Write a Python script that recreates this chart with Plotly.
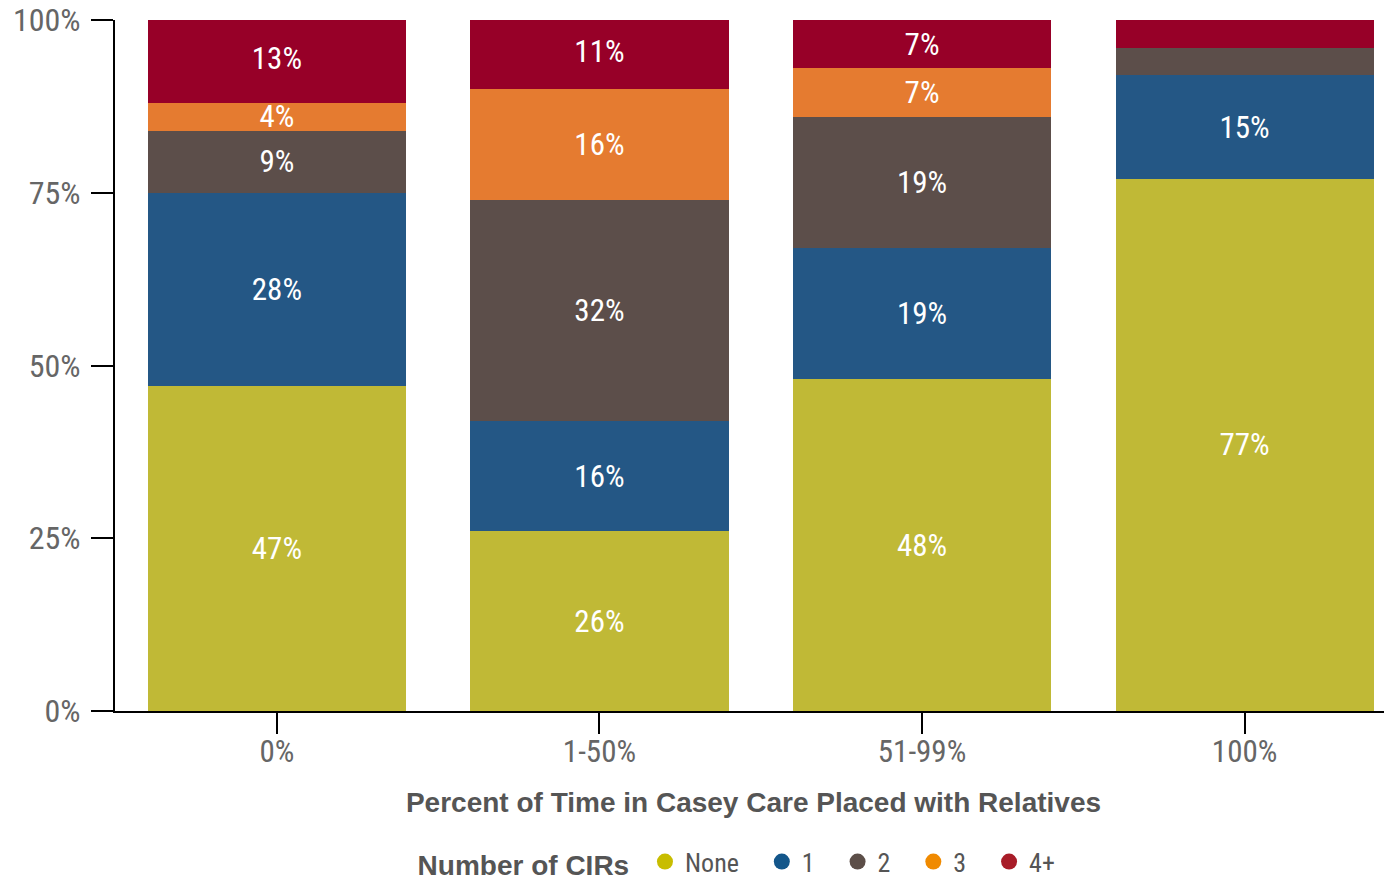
import plotly.graph_objects as go

categories = ["0%", "1-50%", "51-99%", "100%"]
series_names = ["None", "1", "2", "3", "4+"]
none_vals = [47, 26, 48, 77]
one_vals = [28, 16, 19, 15]
two_vals = [9, 32, 19, 4]
three_vals = [4, 16, 7, 0]
four_vals = [13, 11, 7, 4]
none_text = ["47%", "26%", "48%", "77%"]
one_text = ["28%", "16%", "19%", "15%"]
two_text = ["9%", "32%", "19%", ""]
three_text = ["4%", "16%", "7%", ""]
four_text = ["13%", "11%", "7%", ""]
y_ticks = [0, 25, 50, 75, 100]
y_tick_labels = ["0%", "25%", "50%", "75%", "100%"]

colors = ["#c0b936", "#245785", "#5c4e4a", "#e57b30", "#970028"]
legend_colors = ["#c8bd00", "#13568a", "#5c4e48", "#f08a00", "#a81c28"]
COND = "Liberation Sans Narrow, Arial Narrow, Roboto Condensed, Roboto, sans-serif"
BOLD = "Liberation Sans, Arial, sans-serif"
PAD = "\u00a0\u00a0\u00a0"

fig = go.Figure()
vals = [none_vals, one_vals, two_vals, three_vals, four_vals]
texts = [none_text, one_text, two_text, three_text, four_text]
for name, v, t, c in zip(series_names, vals, texts, colors):
    fig.add_trace(go.Bar(
        x=categories, y=v, name=name, text=t, textposition="inside",
        insidetextanchor="middle", textangle=0,
        textfont=dict(color="white", size=31, family=COND),
        marker=dict(color=c, line=dict(width=0)),
        showlegend=False, hoverinfo="skip",
    ))
for name, c in zip(series_names, legend_colors):
    fig.add_trace(go.Scatter(
        x=[None], y=[None], mode="markers", name=name + PAD,
        marker=dict(color=c, size=26, symbol="circle"),
        showlegend=True,
    ))

fig.update_layout(
    width=1384, height=873,
    barmode="stack", bargap=0.2,
    plot_bgcolor="white", paper_bgcolor="white",
    margin=dict(l=107, r=0, t=12, b=170, autoexpand=False),
    uniformtext=dict(minsize=31, mode="show"),
    font=dict(family=COND, color="#666666"),
    legend=dict(
        orientation="h", x=0.495, xanchor="center", y=-0.218, yanchor="middle",
        traceorder="normal",
        title=dict(text="<b>Number of CIRs</b> ", font=dict(family=BOLD, size=28, color="#555555")),
        font=dict(family=COND, size=26, color="#555555"),
        itemsizing="trace", itemwidth=30,
    ),
)
fig.update_xaxes(
    range=[-0.502, 3.457], automargin=False,
    showline=True, linecolor="black", linewidth=2,
    ticks="outside", ticklen=21, tickwidth=1.5, tickcolor="black",
    ticklabelstandoff=-9,
    tickfont=dict(family=COND, size=31, color="#666666"),
    showgrid=False,
    title=dict(text="<b>Percent of Time in Casey Care Placed with Relatives</b>",
               font=dict(family=BOLD, size=28, color="#555555"),
               standoff=23),
)
fig.update_yaxes(
    range=[0, 100], tickvals=y_ticks, ticktext=y_tick_labels, automargin=False,
    showline=True, linecolor="black", linewidth=2,
    ticks="outside", ticklen=22, tickwidth=1.5, tickcolor="black",
    ticklabelstandoff=4, ticklabeloverflow="allow",
    tickfont=dict(family=COND, size=32, color="#666666"),
    showgrid=False, zeroline=False,
)
fig.write_html("out.html")
